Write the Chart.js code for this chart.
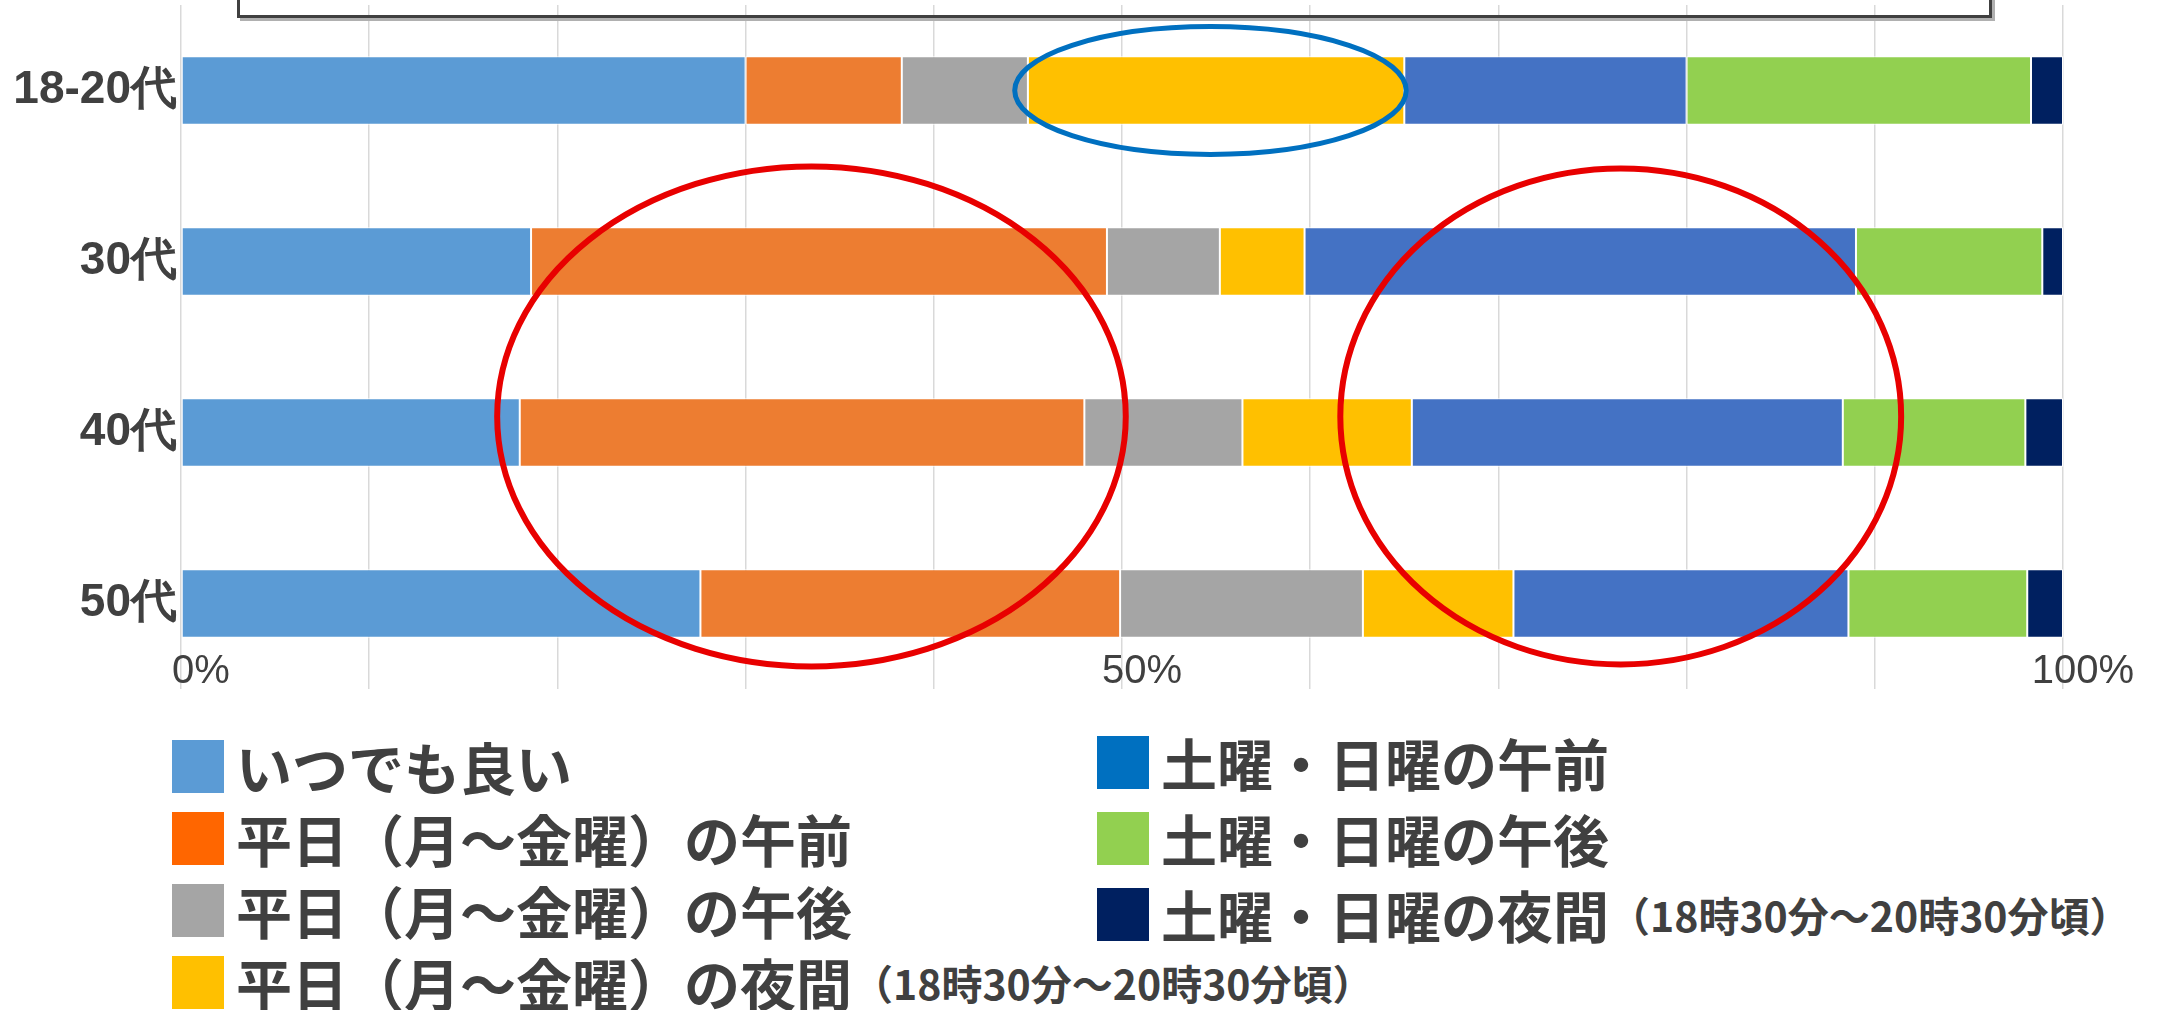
<!DOCTYPE html>
<html lang="ja">
<head>
<meta charset="utf-8">
<title>希望する時間帯（年代別）</title>
<script src="https://cdn.jsdelivr.net/npm/chart.js@4.4.1/dist/chart.umd.min.js"></script>
<style>
  html, body { margin: 0; padding: 0; background: #fff; overflow: hidden; }
  body { width: 2170px; height: 1010px; position: relative; font-family: "Noto Sans CJK JP", "Noto Sans", sans-serif; color: #404040; }
  #chartBox { position: absolute; left: 0; top: 0; width: 2170px; height: 700px; }
  #titleFrame { position: absolute; left: 237px; top: -40px; width: 1749px; height: 52px; border: 3px solid #404040; box-shadow: 3px 3px 0 #b0b0b0; }
  .legendCol { position: absolute; }
  .legendRow { display: flex; align-items: center; white-space: nowrap; font-weight: bold; font-size: 56px; line-height: 1; }
  .swatch { width: 52px; height: 53px; margin-right: 12px; flex: none; }
  .note { font-size: 41px; }
</style>
</head>
<body>
<div id="chartBox"><canvas id="timeChart"></canvas></div>
<div id="titleFrame"></div>
<div class="legendCol" id="legendLeft" style="left:172px; top:730px;"></div>
<div class="legendCol" id="legendRight" style="left:1097px; top:724px;"></div>

<script>
// 年代
const ageGroups = ['18-20代', '30代', '40代', '50代'];

// 回答の割合 (%)
const anyTime      = [30.0, 18.6, 18.0, 27.6];
const weekdayAM    = [ 8.3, 30.6, 30.0, 22.3];
const weekdayPM    = [ 6.7,  6.0,  8.4, 12.9];
const weekdayNight = [20.0,  4.5,  9.0,  8.0];
const weekendAM    = [15.0, 29.3, 22.9, 17.8];
const weekendPM    = [18.3,  9.9,  9.7,  9.5];
const weekendNight = [ 1.7,  1.1,  2.0,  1.9];

const seriesNames = [
  'いつでも良い',
  '平日（月～金曜）の午前',
  '平日（月～金曜）の午後',
  '平日（月～金曜）の夜間',
  '土曜・日曜の午前',
  '土曜・日曜の午後',
  '土曜・日曜の夜間'
];
const eveningNote = '（18時30分～20時30分頃）';
const xTickLabels = { 0: '0%', 50: '50%', 100: '100%' };

const barColors    = ['#5B9BD5', '#ED7D31', '#A5A5A5', '#FFC000', '#4472C4', '#92D050', '#002060'];
const legendColors = ['#5B9BD5', '#FF6600', '#A5A5A5', '#FFC000', '#0070C0', '#92D050', '#002060'];

// 強調の楕円（x: %, y: カテゴリ位置）
const rings = [
  { cx: 54.7, cy: 0.0,   rx: 10.4, ry: 0.374, color: '#0070C0', width: 5 },
  { cx: 33.5, cy: 1.906, rx: 16.7, ry: 1.462, color: '#E80000', width: 6 },
  { cx: 76.5, cy: 1.906, rx: 14.9, ry: 1.45,  color: '#E80000', width: 6 }
];

const allSeries = [anyTime, weekdayAM, weekdayPM, weekdayNight, weekendAM, weekendPM, weekendNight];

const ringPlugin = {
  id: 'rings',
  afterDraw(chart) {
    const { ctx, scales: { x, y } } = chart;
    ctx.save();
    rings.forEach(r => {
      const cx = x.getPixelForValue(r.cx);
      const cy = y.getPixelForValue(r.cy);
      const rx = x.getPixelForValue(r.cx + r.rx) - cx;
      const ry = y.getPixelForValue(r.cy + r.ry) - cy;
      ctx.beginPath();
      ctx.ellipse(cx, cy, Math.abs(rx), Math.abs(ry), 0, 0, Math.PI * 2);
      ctx.strokeStyle = r.color;
      ctx.lineWidth = r.width;
      ctx.stroke();
    });
    ctx.restore();
  }
};

const ctx = document.getElementById('timeChart').getContext('2d');
const chart = new Chart(ctx, {
  type: 'bar',
  data: {
    labels: ageGroups,
    datasets: allSeries.map((vals, i) => ({
      label: seriesNames[i],
      data: vals,
      backgroundColor: barColors[i],
      borderColor: '#ffffff',
      borderWidth: 1,
      borderSkipped: false,
      barPercentage: 0.4,
      categoryPercentage: 1.0
    }))
  },
  options: {
    indexAxis: 'y',
    responsive: true,
    maintainAspectRatio: false,
    animation: false,
    layout: { padding: { top: 5, right: 107, bottom: 11, left: 0 } },
    plugins: {
      legend: { display: false },
      tooltip: { enabled: false }
    },
    scales: {
      x: {
        stacked: true,
        min: 0,
        max: 100,
        border: { display: false },
        grid: { color: '#D9D9D9', lineWidth: 1.5, drawTicks: false },
        ticks: {
          stepSize: 10,
          autoSkip: false,
          maxRotation: 0,
          mirror: true,
          padding: 0,
          labelOffset: 20,
          color: '#404040',
          font: { size: 40, weight: '300', lineHeight: 0.85 },
          callback: v => xTickLabels[v] || ''
        }
      },
      y: {
        stacked: true,
        border: { display: false },
        grid: { display: false, drawTicks: false },
        afterFit: scale => { scale.width = 181; },
        ticks: {
          padding: 4,
          color: '#404040',
          font: { size: 46, weight: 'bold', lineHeight: 0.01 }
        }
      }
    }
  },
  plugins: [ringPlugin]
});

// 凡例
function addLegendRow(col, i, rowHeight) {
  const row = document.createElement('div');
  row.className = 'legendRow';
  row.style.height = rowHeight + 'px';
  const sw = document.createElement('div');
  sw.className = 'swatch';
  sw.style.background = legendColors[i];
  row.appendChild(sw);
  const txt = document.createElement('span');
  txt.textContent = seriesNames[i];
  row.appendChild(txt);
  if (i === 3 || i === 6) {
    const n = document.createElement('span');
    n.className = 'note';
    n.textContent = eveningNote;
    row.appendChild(n);
  }
  col.appendChild(row);
}
const leftCol = document.getElementById('legendLeft');
const rightCol = document.getElementById('legendRight');
[0, 1, 2, 3].forEach(i => addLegendRow(leftCol, i, 72));
[4, 5, 6].forEach(i => addLegendRow(rightCol, i, 76));
</script>
</body>
</html>
